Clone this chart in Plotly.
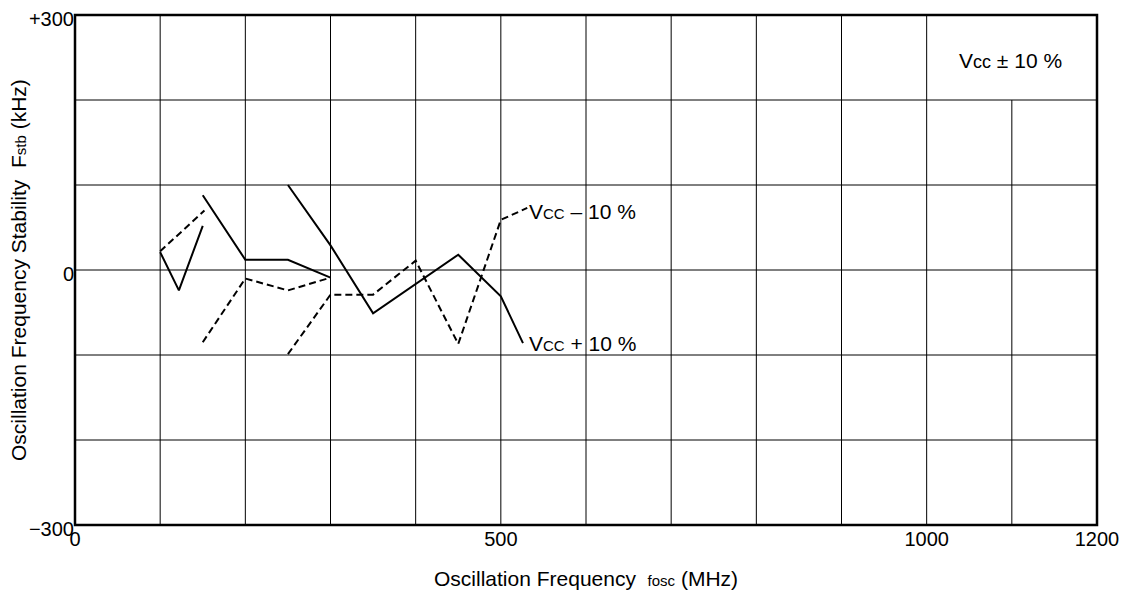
import plotly.graph_objects as go

# Vcc + 10 % (solid) segments
solid_x = [[100, 122, 150], [150, 200, 250, 300], [250, 300, 350, 450, 500, 526]]
solid_y = [[21, -24, 52], [88, 12, 12, -9], [100, 29, -51, 18, -31, -86]]
# Vcc - 10 % (dashed) segments
dash_x = [[100, 152], [150, 200, 250, 300], [250, 300, 350, 400, 450, 500, 531]]
dash_y = [[22, 70], [-85, -10, -24, -9], [-99, -29, -29, 11, -87, 59, 73]]

x_tickvals = [0, 500, 1000, 1200]
x_ticktext = ["0", "500", "1000", "1200"]
y_tickvals = [-300, 0, 300]
y_ticktext = ["\u2212300", "0", "+300"]

FONT = "Liberation Sans, Arial, sans-serif"
fig = go.Figure()
for xs, ys in zip(solid_x, solid_y):
    fig.add_trace(go.Scatter(x=xs, y=ys, mode="lines",
                             line=dict(color="black", width=2), showlegend=False))
for xs, ys in zip(dash_x, dash_y):
    fig.add_trace(go.Scatter(x=xs, y=ys, mode="lines",
                             line=dict(color="black", width=2, dash="7px,4px"), showlegend=False))

shapes = []
for gx in range(100, 1200, 100):
    y1 = 200 if gx == 1100 else 300
    shapes.append(dict(type="line", xref="x", yref="y", x0=gx, x1=gx, y0=-300, y1=y1,
                       line=dict(color="black", width=1), layer="below"))
for gy in range(-200, 300, 100):
    shapes.append(dict(type="line", xref="x", yref="y", x0=0, x1=1200, y0=gy, y1=gy,
                       line=dict(color="black", width=1), layer="below"))
shapes.append(dict(type="rect", xref="paper", yref="paper", x0=0, x1=1, y0=0, y1=1,
                   line=dict(color="black", width=2.5)))

small = "<span style='font-size:15px'>%s</span>"
annotations = [
    dict(x=531, y=69, xref="x", yref="y", text="V" + small % "CC" + " \u2013 10 %",
         showarrow=False, xanchor="left", yanchor="middle", font=dict(size=21)),
    dict(x=531, y=-86, xref="x", yref="y", text="V" + small % "CC" + " + 10 %",
         showarrow=False, xanchor="left", yanchor="middle", font=dict(size=21)),
    dict(x=1036, y=246, xref="x", yref="y",
         text="V<span style='font-size:18px'>cc</span> \u00b1 10 %",
         showarrow=False, xanchor="left", yanchor="middle", font=dict(size=21)),
    dict(x=0.5, y=0, xref="paper", yref="paper", yshift=-53,
         text="Oscillation Frequency  " + small % "fosc" + " (MHz)",
         showarrow=False, xanchor="center", yanchor="middle", font=dict(size=21)),
    dict(x=0, y=0.5, xref="paper", yref="paper", xshift=-57, textangle=-90,
         text="Oscillation Frequency Stability  F" + small % "stb" + " (kHz)",
         showarrow=False, xanchor="center", yanchor="middle", font=dict(size=21)),
]

fig.update_layout(
    width=1123, height=586,
    margin=dict(l=67, r=34, t=7, b=69),
    paper_bgcolor="white", plot_bgcolor="white",
    font=dict(family=FONT, color="black", size=20),
    xaxis=dict(range=[0, 1200], tickvals=x_tickvals, ticktext=x_ticktext,
               showgrid=False, zeroline=False, showline=False, ticks="",
               tickfont=dict(size=20), automargin=False, ticklabeloverflow="allow"),
    yaxis=dict(range=[-300, 300], tickvals=y_tickvals, ticktext=y_ticktext,
               showgrid=False, zeroline=False, showline=False, ticks="",
               tickfont=dict(size=20), automargin=False, ticklabeloverflow="allow",
               ticklabelshift=4),
    shapes=shapes, annotations=annotations,
)
fig.write_html("out.html")
